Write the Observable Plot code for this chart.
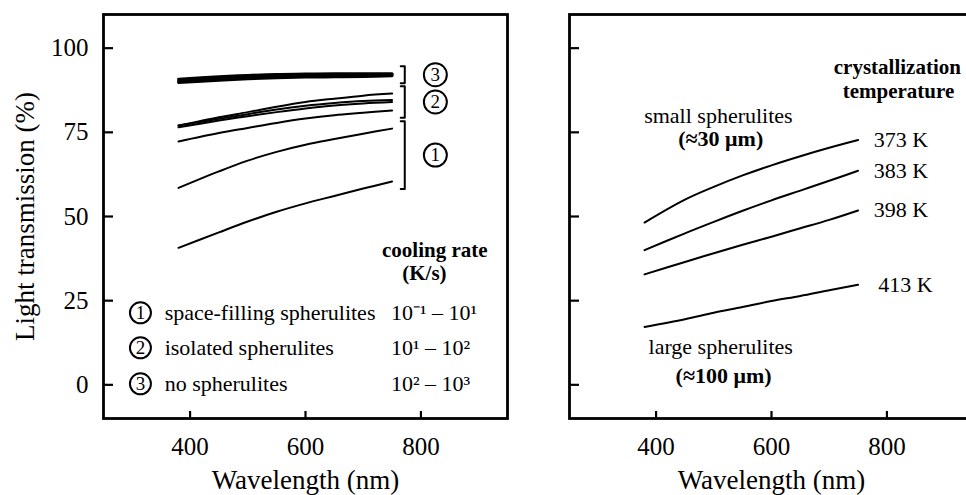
<!DOCTYPE html>
<html><head><meta charset="utf-8">
<script src="https://cdn.jsdelivr.net/npm/d3@7"></script>
<script src="https://cdn.jsdelivr.net/npm/@observablehq/plot@0.6"></script>
<style>
html,body{margin:0;padding:0;background:#fff;overflow:hidden;width:966px;height:495px}
#wrap{position:relative;width:966px;height:495px;overflow:hidden}
#left{position:absolute;left:0;top:0;width:520px}
#right{position:absolute;left:520px;top:0;width:460px}
svg{max-width:none !important}
svg text{font-family:"Liberation Serif","Times New Roman",serif}
</style></head><body><div id="wrap"><div id="left"></div><div id="right"></div></div>
<script>
// ---------- data ----------
const wavelength = [380, 450, 500, 550, 600, 650, 700, 750];
const xTicks = [400, 600, 800];
const yTicks = [0, 25, 50, 75, 100];

// left panel: light transmission (%) by cooling-rate group
const group3 = [
  [90.2, 91.0, 91.4, 91.7, 91.8, 91.9, 92.0, 92.1],
  [90.8, 91.5, 91.9, 92.2, 92.3, 92.4, 92.4, 92.4],
  [89.8, 90.5, 90.9, 91.2, 91.4, 91.5, 91.6, 91.8]
];
const group2 = [
  [77.0, 79.5, 81.0, 82.6, 84.0, 85.0, 85.9, 86.5],
  [77.0, 79.0, 80.4, 81.8, 82.9, 83.7, 84.3, 84.6],
  [76.5, 78.5, 79.8, 81.0, 82.1, 83.0, 83.6, 84.0],
  [72.3, 74.8, 76.3, 77.8, 79.1, 80.1, 80.8, 81.5]
];
const group1 = [
  [58.5, 63.4, 66.6, 69.2, 71.3, 73.0, 74.6, 76.1],
  [40.7, 45.3, 48.5, 51.4, 53.9, 56.1, 58.3, 60.4]
];
const groupNames = ["1", "2", "3"];
const legendLabels = ["space-filling spherulites", "isolated spherulites", "no spherulites"];
const coolingRates = ["10\u207B\u00B9 \u2013 10\u00B9", "10\u00B9 \u2013 10\u00B2", "10\u00B2 \u2013 10\u00B3"];

// right panel: crystallization temperature series
const temperatures = ["373 K", "383 K", "398 K", "413 K"];
const tempSeries = [
  [48.2, 55.0, 58.8, 62.2, 65.2, 67.9, 70.4, 72.7],
  [40.0, 45.0, 48.4, 51.7, 54.8, 57.7, 60.6, 63.6],
  [32.8, 36.5, 39.1, 41.6, 44.0, 46.5, 49.0, 51.8],
  [17.2, 19.5, 21.4, 23.1, 24.9, 26.4, 28.1, 29.7]
];

// ---------- build tables ----------
const groups = [group1, group2, group3];
const leftData = [];
groups.forEach((g, gi) => g.forEach((s, si) => s.forEach((v, i) =>
  leftData.push({id: `g${gi}-${si}`, grp: gi, wl: wavelength[i], t: v}))));

const rightData = [];
tempSeries.forEach((s, si) => s.forEach((v, i) =>
  rightData.push({id: temperatures[si], wl: wavelength[i], t: v})));

// brackets derived from group end values
const bx = 772, hook = 7, pad = 2.2;
const bracketPts = [];
const circled = [];
groups.forEach((g, gi) => {
  const ends = g.map(s => s[s.length - 1]);
  const top = d3.max(ends) + pad, bot = d3.min(ends) - pad;
  const id = "b" + gi;
  bracketPts.push({id, x: bx - hook, y: top}, {id, x: bx, y: top}, {id, x: bx, y: bot}, {id, x: bx - hook, y: bot});
  circled.push({x: 825, y: (top + bot) / 2, n: groupNames[gi]});
});

const legendRows = legendLabels.map((l, i) => ({n: groupNames[i], label: l, rate: coolingRates[i], y: [21.4, 11.0, 0.3][i]}));

const xDomain = [250, 950], yDomain = [-10, 110];
const H = 495, MT = 14, MB = 77;
const common = {
  height: H, marginTop: MT, marginBottom: MB,
  x: {domain: xDomain, axis: null}, y: {domain: yDomain, axis: null},
  style: {fontFamily: "Liberation Serif", fontSize: "25px", color: "#000", background: "transparent", overflow: "visible"}
};

function axes(showY, width, ml, mr) {
  // inward tick lengths (px) converted to data units
  const ux = (xDomain[1] - xDomain[0]) / (width - ml - mr);
  const uy = (yDomain[1] - yDomain[0]) / (H - MT - MB);
  return [
    Plot.ruleY(yTicks, {y: d => d, x1: xDomain[0], x2: xDomain[0] + 10 * ux, stroke: "#000", strokeWidth: 2.2}),
    Plot.ruleX(xTicks, {x: d => d, y1: yDomain[0], y2: yDomain[0] + 7 * uy, stroke: "#000", strokeWidth: 2.2}),
    Plot.axisX(xTicks, {tickSize: 0, tickPadding: 19, label: null, fontSize: 25, tickFormat: d => String(d)}),
    ...(showY ? [Plot.axisY(yTicks, {tickSize: 0, tickPadding: 15, label: null, fontSize: 25, tickFormat: d => String(d)})] : []),
    Plot.frame({stroke: "#000", strokeWidth: 2.8}),
    Plot.text(["Wavelength (nm)"], {frameAnchor: "bottom", dy: 70, fontSize: 27, text: d => d})
  ];
}

const LW = 520, LML = 103, LMR = 13;
const left = Plot.plot({
  ...common,
  width: LW, marginLeft: LML, marginRight: LMR,
  marks: [
    ...axes(true, LW, LML, LMR),
    Plot.text(["Light transmission (%)"], {frameAnchor: "left", dx: -78, rotate: -90, textAnchor: "middle", fontSize: 27, text: d => d}),
    Plot.line(leftData, {x: "wl", y: "t", z: "id", stroke: "#000", strokeWidth: d => d.grp === 2 ? 3 : 2, curve: "catmull-rom"}),
    Plot.line(bracketPts, {x: "x", y: "y", z: "id", stroke: "#000", strokeWidth: 2}),
    Plot.dot(circled, {x: "x", y: "y", r: 11.5, stroke: "#000", strokeWidth: 2, fill: "#fff"}),
    Plot.text(circled, {x: "x", y: "y", text: "n", fontSize: 19}),
    Plot.text(["cooling rate"], {x: 824, y: 40, text: d => d, fontSize: 21, fontWeight: "bold"}),
    Plot.text(["(K/s)"], {x: 806, y: 33.2, text: d => d, fontSize: 21, fontWeight: "bold"}),
    Plot.dot(legendRows, {x: 314, y: "y", r: 10.5, stroke: "#000", strokeWidth: 2, fill: "#fff"}),
    Plot.text(legendRows, {x: 314, y: "y", text: "n", fontSize: 19}),
    Plot.text(legendRows, {x: 356, y: "y", text: "label", textAnchor: "start", fontSize: 22}),
    Plot.text(legendRows, {x: 748, y: "y", text: "rate", textAnchor: "start", fontSize: 22})
  ]
});

const tempLabels = temperatures.map((t, i) => ({t, y: tempSeries[i][tempSeries[i].length - 1]}));

const RW = 460, RML = 49, RMR = 7;
const right = Plot.plot({
  ...common,
  width: RW, marginLeft: RML, marginRight: RMR,
  marks: [
    ...axes(false, RW, RML, RMR),
    Plot.line(rightData, {x: "wl", y: "t", z: "id", stroke: "#000", strokeWidth: 2, curve: "catmull-rom"}),
    Plot.text(tempLabels.slice(0, 3), {x: 777, y: "y", text: "t", textAnchor: "start", fontSize: 22}),
    Plot.text(tempLabels.slice(3), {x: 785, y: "y", text: "t", textAnchor: "start", fontSize: 22}),
    Plot.text(["crystallization"], {x: 818, y: 94.3, text: d => d, fontSize: 21, fontWeight: "bold"}),
    Plot.text(["temperature"], {x: 820, y: 87.1, text: d => d, fontSize: 21, fontWeight: "bold"}),
    Plot.text(["small spherulites"], {x: 508, y: 79.8, text: d => d, fontSize: 22}),
    Plot.text(["(\u224830 \u03BCm)"], {x: 512, y: 73.0, text: d => d, fontSize: 22, fontWeight: "bold"}),
    Plot.text(["large spherulites"], {x: 512, y: 11.3, text: d => d, fontSize: 22}),
    Plot.text(["(\u2248100 \u03BCm)"], {x: 517, y: 2.7, text: d => d, fontSize: 22, fontWeight: "bold"})
  ]
});

document.getElementById("left").append(left);
document.getElementById("right").append(right);
</script></body></html>
